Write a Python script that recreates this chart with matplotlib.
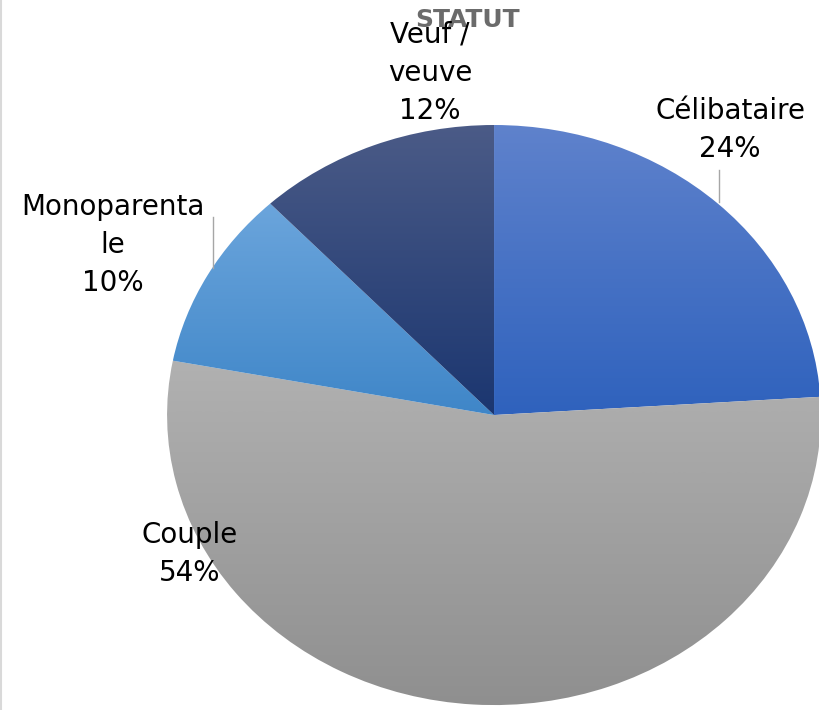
import numpy as np
import matplotlib
matplotlib.use("Agg")
import matplotlib.pyplot as plt
from matplotlib.colors import LinearSegmentedColormap

# data
labels = ["Célibataire", "Couple", "Monoparenta\nle", "Veuf /\nveuve"]
shares = [24, 54, 10, 12]

# top / bottom colours of the gradient in each slice
top_colors = ["#5f82cc", "#b1b1b1", "#6ba5dc", "#4b5b87"]
bottom_colors = ["#2f62bd", "#8f8f8f", "#3f86c8", "#1b3670"]

# label centres (data units) and leader lines
label_pos = [(0.722, 0.983), (-0.93, -0.479), (-1.165, 0.585), (-0.196, 1.18)]
leaders = [((0.688, 0.688), (0.845, 0.734)), ((-0.859, -0.859), (0.683, 0.507))]

fig = plt.figure(figsize=(8.2, 7.1), dpi=100)
ax = fig.add_axes([0, 0, 1, 1])

wedges, _ = ax.pie(shares, startangle=90, counterclock=False, radius=1,
                   center=(0, 0), frame=True,
                   wedgeprops=dict(linewidth=0, edgecolor="none"))
ax.set_aspect("auto")
ax.set_xlim(-1.511, 0.997)
ax.set_ylim(-1.017, 1.431)
ax.axis("off")

# vertical gradient per slice, clipped to the wedge
grad = np.linspace(1, 0, 256).reshape(-1, 1)
for w, c1, c2 in zip(wedges, top_colors, bottom_colors):
    w.set_facecolor("none")
    path = w.get_path().transformed(w.get_patch_transform())
    x0, y0 = path.vertices.min(axis=0)
    x1, y1 = path.vertices.max(axis=0)
    cmap = LinearSegmentedColormap.from_list("g", [c2, c1])
    im = ax.imshow(grad, cmap=cmap, aspect="auto", extent=(x0, x1, y0, y1),
                   zorder=1)
    im.set_clip_path(w)

for xs, ys in leaders:
    ax.plot(xs, ys, color="#a6a6a6", lw=1, zorder=2)

ax.text(-0.08, 1.362, "STATUT", ha="center", va="center", fontsize=18,
        fontweight="bold", color="#6b6b6b", zorder=3)

for (x, y), lab, s in zip(label_pos, labels, shares):
    ax.text(x, y, f"{lab}\n{s}%", ha="center", va="center", fontsize=20,
            color="black", linespacing=1.45, zorder=4)

fig.add_artist(plt.Line2D([0.001, 0.001], [0, 1], color="#d9d9d9", lw=1.5,
                          transform=fig.transFigure))

fig.savefig("out.png", dpi=100)
